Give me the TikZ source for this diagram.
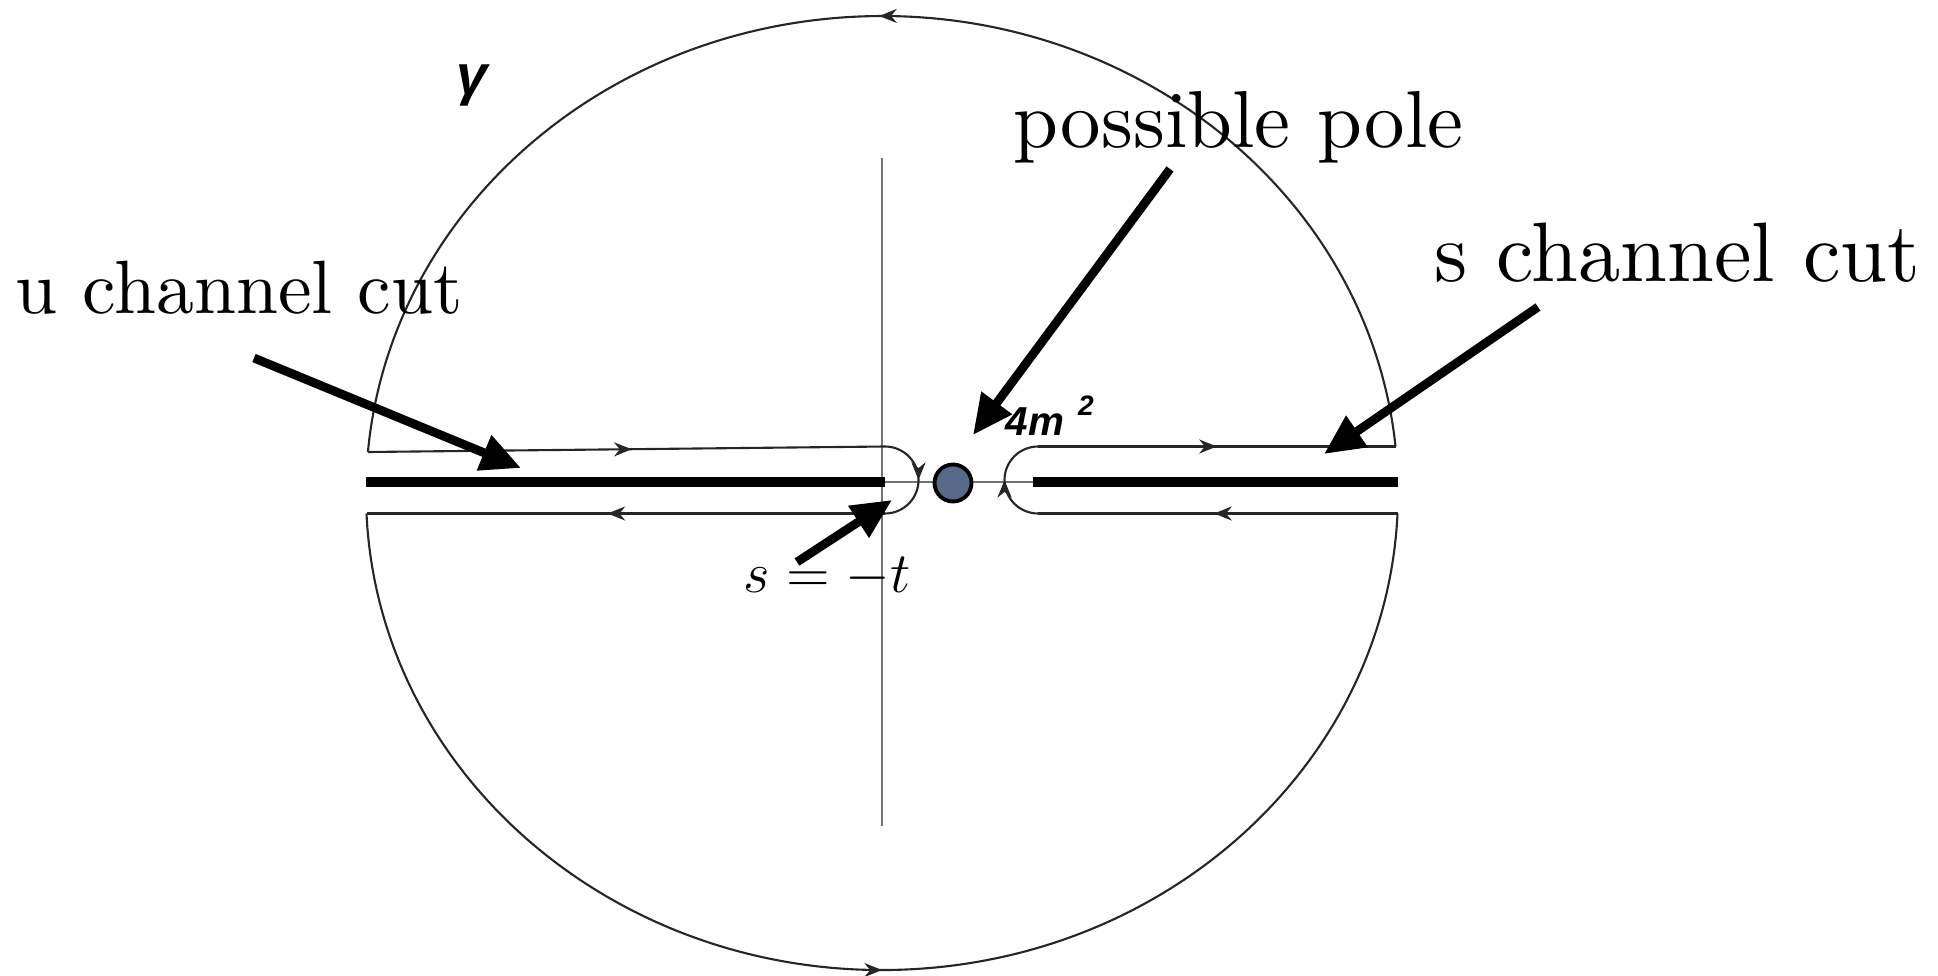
\RequirePackage{fix-cm}
\documentclass[tikz,border=0pt]{standalone}
\usepackage{fontspec}
\newfontfamily\arialfont{Liberation Sans}
\newfontfamily\tenfont{lmroman10-regular.otf}
\usetikzlibrary{arrows.meta,decorations.markings}
\definecolor{poleblue}{RGB}{88,106,138}
\begin{document}
\begin{tikzpicture}[x=1cm,y=1cm,
  contour/.style={line width=0.6pt,black!85},
  axis/.style={line width=0.7pt,black!55},
  cut/.style={line width=2.9pt},
  pointer/.style={line width=2.5pt,-{Triangle[length=0.40cm,width=0.36cm]}},
  midarrow/.style={postaction={decorate},decoration={markings,mark=at position #1 with {\arrow{Stealth[length=5pt,width=4pt]}}}},
  big/.style={inner sep=0pt,anchor=base west}]
\useasboundingbox (0,0) rectangle (19.38,9.75);
\draw[axis] (8.82,1.49) -- (8.82,8.17);
\draw[axis] (8.85,4.93) -- (10.33,4.93);
\draw[contour,midarrow=0.5] (13.955,5.285) arc[start angle=5.6,end angle=175.07,x radius=5.16,y radius=4.77];
\draw[contour,midarrow=0.5] (3.665,4.615) arc[start angle=182.46,end angle=357.54,x radius=5.16,y radius=4.77];
\draw[contour,midarrow=0.51] (3.68,5.23) -- (8.85,5.285);
\draw[contour,midarrow=0.5] (8.85,5.285) arc[start angle=90,end angle=-90,radius=0.335];
\draw[contour,midarrow=0.535] (8.85,4.615) -- (3.665,4.615);
\draw[contour,midarrow=0.51] (13.975,4.615) -- (10.38,4.615);
\draw[contour,midarrow=0.5] (10.38,4.615) arc[start angle=270,end angle=90,radius=0.335];
\draw[contour,midarrow=0.5] (10.38,5.285) -- (13.955,5.285);
\draw[cut] (3.66,4.93) -- (8.85,4.93);
\draw[cut] (10.33,4.93) -- (13.98,4.93);
\node[circle,draw,line width=1.1pt,fill=poleblue,minimum size=0.37cm,inner sep=0pt] (pole) at (9.53,4.92) {};
\node[big,font=\tenfont\fontsize{21.5}{26}\selectfont] (uname) at (0.15,6.62) {u channel cut};
\node[big,font=\tenfont\fontsize{23}{28}\selectfont] (pname) at (10.13,8.27) {possible pole};
\node[big,font=\tenfont\fontsize{24}{29}\selectfont] (sname) at (14.34,6.94) {s channel cut};
\node[big,font=\fontsize{16.3}{19}\selectfont] (tname) at (7.43,3.83) {$s=-t$};
\node[big,font=\arialfont\bfseries\itshape\fontsize{11.5}{13}\selectfont] (mname) at (10.05,5.40) {4m\hspace{0.14cm}\raisebox{0.2cm}{\fontsize{8}{9}\selectfont 2}};
\node[inner sep=0pt,font=\arialfont\bfseries\itshape\fontsize{16}{18}\selectfont] (gname) at (4.72,8.90) {γ};
\coordinate (utail) at (2.54,6.17);
\coordinate (utip) at (5.21,5.07);
\coordinate (ptail) at (11.70,8.06);
\coordinate (ptip) at (9.73,5.40);
\coordinate (stail) at (15.38,6.68);
\coordinate (stip) at (13.24,5.21);
\coordinate (ttail) at (7.97,4.13);
\coordinate (ttip) at (8.92,4.75);
\draw[pointer] (utail) -- (utip);
\draw[pointer] (ptail) -- (ptip);
\draw[pointer] (stail) -- (stip);
\draw[pointer] (ttail) -- (ttip);
\end{tikzpicture}
\end{document}
